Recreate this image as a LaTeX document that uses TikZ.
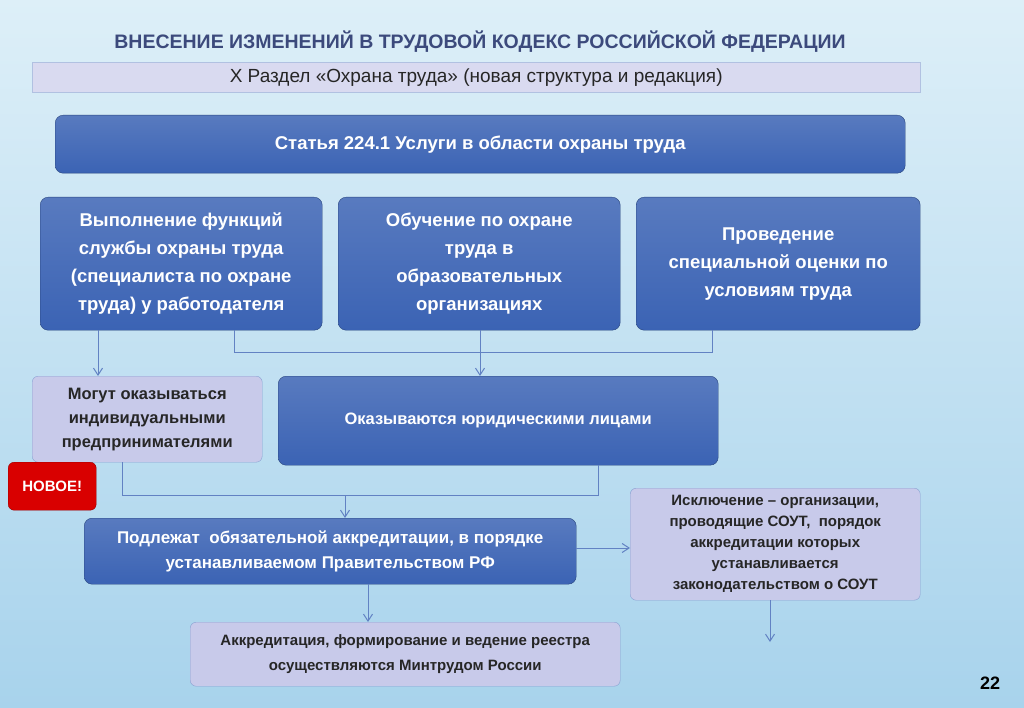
\documentclass[tikz,border=0pt]{standalone}
\usepackage{fontspec}
\setmainfont{Liberation Sans}
\usetikzlibrary{positioning, arrows.meta}
\definecolor{bluebox}{HTML}{3B63B4}
\definecolor{lavbox}{HTML}{C8CAEA}
\definecolor{titlecol}{HTML}{3C4A7C}
\definecolor{bgtop}{HTML}{DDEFF8}
\definecolor{bgbot}{HTML}{A8D3EC}
\tikzset{
  bluebox/.style={draw=bluebox!70!black, rounded corners=8pt, top color=bluebox!85!white, bottom color=bluebox,
    text=white, font=\bfseries\fontsize{17}{21}\selectfont, align=center, anchor=north west},
  lavbox/.style={draw=bluebox!60, rounded corners=6pt, fill=lavbox, text=black!85,
    font=\bfseries\fontsize{15}{20}\selectfont, align=center, anchor=north west},
  bigtext/.style={font=\bfseries\fontsize{18.5}{28}\selectfont},
  link/.style={draw=bluebox!80, line width=1pt},
  arr/.style={link, -{Straight Barb[length=7pt,width=9pt]}}
}
\begin{document}
\begin{tikzpicture}[x=1pt, y=-1pt]
  % Background
  \shade[top color=bgtop, bottom color=bgbot] (0,0) rectangle (1024,708);
  \useasboundingbox (0,0) rectangle (1024,708);
  % Title
  \node[text=titlecol, font=\bfseries\fontsize{19.5}{23}\selectfont] (title) at (480,42)
    {ВНЕСЕНИЕ ИЗМЕНЕНИЙ В ТРУДОВОЙ КОДЕКС РОССИЙСКОЙ ФЕДЕРАЦИИ};
  \node[draw=bluebox!40, fill=lavbox!70!white, minimum width=888, minimum height=30,
    anchor=north west, font=\fontsize{19}{22}\selectfont, text=black!85] (section) at (32,62)
    {X Раздел «Охрана труда» (новая структура и редакция)};
  % Boxes
  \node[bluebox, minimum width=850, minimum height=58, font=\bfseries\fontsize{18.5}{22}\selectfont] (art) at (55,115)
    {Статья 224.1 Услуги в области охраны труда};
  \node[bluebox, bigtext, minimum width=282, minimum height=133] (func) at (40,197)
    {Выполнение функций\\ службы охраны труда\\ (специалиста по охране\\ труда) у работодателя};
  \node[bluebox, bigtext, minimum width=282, minimum height=133] (edu) at (338,197)
    {Обучение по охране\\ труда в\\ образовательных\\ организациях};
  \node[bluebox, bigtext, minimum width=284, minimum height=133] (sout) at (636,197)
    {Проведение\\ специальной оценки по\\ условиям труда};
  \node[lavbox, minimum width=230, minimum height=86, font=\bfseries\fontsize{16.5}{24}\selectfont] (ip) at (32,376)
    {Могут оказываться\\ индивидуальными\\ предпринимателями};
  \node[bluebox, minimum width=440, minimum height=89, font=\bfseries\fontsize{16.5}{20}\selectfont] (legal) at (278,376)
    {Оказываются юридическими лицами};
  \node[draw=red!60!black, fill=red!85!black, rounded corners=6pt, text=white, minimum width=88, minimum height=48,
    anchor=north west, font=\bfseries\fontsize{15}{18}\selectfont] (new) at (8,462) {НОВОЕ!};
  \node[bluebox, minimum width=492, minimum height=66, font=\bfseries\fontsize{17}{25}\selectfont] (accr) at (84,518)
    {Подлежат~ обязательной аккредитации, в порядке\\ устанавливаемом Правительством РФ};
  \node[lavbox, minimum width=290, minimum height=112, font=\bfseries\fontsize{15}{21}\selectfont] (excl) at (630,488)
    {Исключение -- организации,\\ проводящие СОУТ,~ порядок\\ аккредитации которых\\ устанавливается\\ законодательством о СОУТ};
  \node[lavbox, minimum width=430, minimum height=64, font=\bfseries\fontsize{15}{25}\selectfont] (reg) at (190,622)
    {Аккредитация, формирование и ведение реестра\\ осуществляются Минтрудом России};
  \node[font=\bfseries\fontsize{18}{21}\selectfont] (page) at (990,683) {22};
  % Connectors
  \coordinate (j1) at (234,352);
  \coordinate (j2) at (712,352);
  \coordinate (j3) at (122,495);
  \coordinate (j4) at (598,495);
  \coordinate (exend) at (770,642);
  \draw[arr] (func.south -| 98,0) -- (ip.north -| 98,0);
  \draw[link] (func.south -| j1) -- (j1) -- (j2) -- (sout.south -| j2);
  \draw[arr] (edu.south -| 480,0) -- (legal.north -| 480,0);
  \draw[link] (ip.south -| j3) -- (j3) -- (j4) -- (legal.south -| j4);
  \draw[arr] (345,495) -- (accr.north -| 345,0);
  \draw[arr] (accr.east |- 0,548) -- (excl.west |- 0,548);
  \draw[arr] (excl.south -| exend) -- (exend);
  \draw[arr] (accr.south -| 368,0) -- (reg.north -| 368,0);
\end{tikzpicture}
\end{document}
